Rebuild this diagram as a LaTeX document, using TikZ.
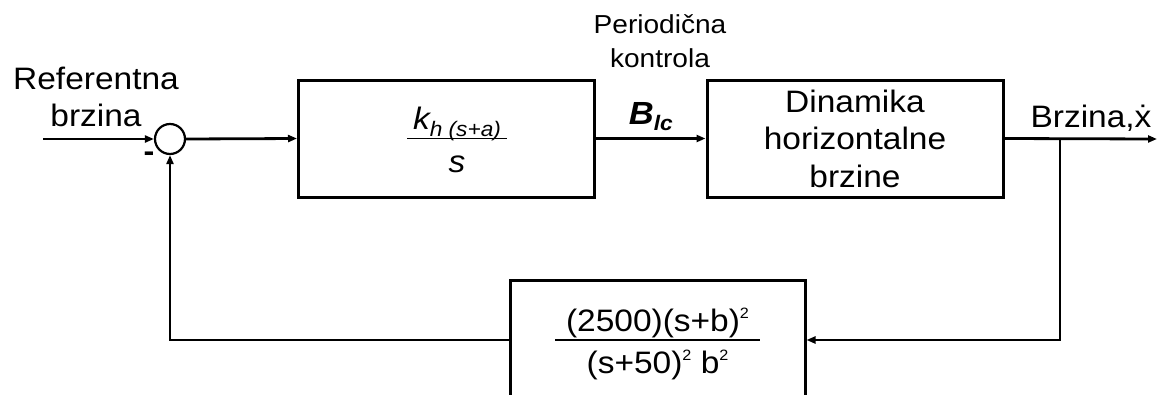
\documentclass[tikz,border=0pt]{standalone}
\usepackage{fontspec}
\setmainfont{Liberation Sans}[FakeStretch=1.08]
\usetikzlibrary{arrows.meta, positioning, calc}
\setlength{\arrayrulewidth}{1.5pt}
\newcommand{\sq}{\raisebox{13pt}{\fontsize{15}{15}\selectfont 2}}
\newcommand{\blkfrac}[3][11pt]{%
  \begin{tabular}{@{\hspace{#1}}c@{\hspace{#1}}}
    \rule{0pt}{36pt}#2\\[-3pt]\hline
    \rule{0pt}{33pt}#3
  \end{tabular}}
\tikzset{
  blk/.style={rectangle, draw, line width=3pt, align=center,
              minimum width=296pt, minimum height=117pt, inner sep=0pt,
              font=\fontsize{31}{37.5}\selectfont},
  sum/.style={circle, draw, line width=2.2pt, minimum size=30pt, inner sep=0pt},
  sig/.style={-{Triangle[length=9pt,width=7pt]}, line width=2.8pt},
  lbl/.style={align=center, inner sep=0pt, font=\fontsize{31}{37}\selectfont},
  lblS/.style={align=center, inner sep=0pt, font=\fontsize{26}{34}\selectfont},
}
\begin{document}
\begin{tikzpicture}[x=1pt, y=-1pt]
  \useasboundingbox (0,0) rectangle (1161,394);
  \clip (0,0) rectangle (1161,394);

  %% ── FORWARD PATH ─────────────────────────────────────────────────────────
  \coordinate (in) at (43,139);
  \node[sum] (sum) at (170,139) {};
  \node[blk] (ctrl) at (446.5,138.5)
        {\hspace{21pt}\blkfrac[6pt]{\itshape k\raisebox{-7pt}{\fontsize{21}{21}\selectfont\itshape h (s+a)}}{\itshape s}};
  \node[blk] (plant) at (855,138.5)
        {Dinamika\\horizontalne\\brzine};
  \coordinate (branch) at (1060,139);
  \coordinate (out) at (1157,139);

  %% ── FEEDBACK PATH ────────────────────────────────────────────────────────
  \node[blk, minimum width=295pt, minimum height=120pt] (filt) at (657.5,340)
        {\blkfrac{(2500)(s+b)\sq}{(s+50)\sq\ b\sq}};

  %% ── LABELS ───────────────────────────────────────────────────────────────
  \node[lbl, anchor=base] (ref) at (96,126) {Referentna\\brzina};
  \node[lbl, anchor=center, font=\fontsize{30}{30}\selectfont\bfseries] (minus) at (149,157) {-};
  \node[lblS, anchor=base] (per) at (660,67) {Periodična\\kontrola};
  \node[lbl, anchor=base] (yout) at (1091,127) {Brzina,ẋ};

  %% ── ARROWS ───────────────────────────────────────────────────────────────
  \draw[sig] (in) -- (sum.west);
  \draw[sig] (sum.east) -- (ctrl.west);
  \draw[sig] (ctrl.east) -- node[above=6pt, inner sep=0pt,
        font=\fontsize{32}{32}\selectfont\bfseries\itshape]
        {B\raisebox{-6pt}{\fontsize{21}{21}\selectfont\bfseries\itshape lc}} (plant.west);
  \draw[sig] (plant.east) -- (out);
  \draw[sig] (branch) |- (filt.east);
  \draw[sig] (filt.west) -| (sum.south);

\end{tikzpicture}
\end{document}
